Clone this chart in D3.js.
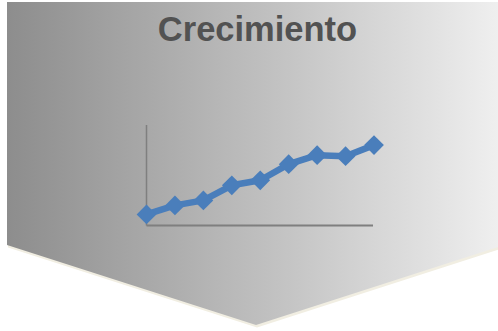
<!DOCTYPE html>
<html>
<head>
<meta charset="utf-8">
<script src="https://cdn.jsdelivr.net/npm/d3@7"></script>
<style>
  html, body { margin: 0; padding: 0; background: #ffffff; }
  svg { display: block; }
</style>
</head>
<body>
<svg id="chart" width="498" height="331"></svg>
<script>
// Data
const title = "Crecimiento";
const categories = [1, 2, 3, 4, 5, 6, 7, 8, 9];
const values = [1.1, 2.0, 2.5, 4.0, 4.5, 6.1, 7.0, 6.9, 8.0];
const yDomain = [0, 10];

const svg = d3.select("#chart");

// Background chevron shape with gradient
const defs = svg.append("defs");
const grad = defs.append("linearGradient").attr("id", "bg").attr("x1", "0%").attr("x2", "100%").attr("y1", "0%").attr("y2", "0%");
grad.append("stop").attr("offset", "0%").attr("stop-color", "#8d8d8d");
grad.append("stop").attr("offset", "50%").attr("stop-color", "#bdbdbd");
grad.append("stop").attr("offset", "100%").attr("stop-color", "#efefef");

const shape = [[7, 2], [498, 2], [498, 247], [256, 325], [7, 245]];
const line = d3.line();
svg.append("path")
  .attr("d", line(shape.map(([x, y]) => [x + 1, y + 2.5])) + "Z")
  .attr("fill", "#f1eee2");
svg.append("path")
  .attr("d", line(shape) + "Z")
  .attr("fill", "url(#bg)");

// Title
svg.append("text")
  .attr("x", 257.5)
  .attr("y", 40.5)
  .attr("text-anchor", "middle")
  .attr("font-family", "'Liberation Sans', Arial, sans-serif")
  .attr("font-weight", "bold")
  .attr("font-size", 34.5)
  .attr("fill", "#525252")
  .text(title);

// Scales
const x = d3.scalePoint().domain(categories).range([146.5, 374]);
const y = d3.scaleLinear().domain(yDomain).range([225.5, 125]);

// Axes (lines only)
svg.append("line")
  .attr("x1", 146.5).attr("x2", 146.5)
  .attr("y1", y(yDomain[1])).attr("y2", y(0))
  .attr("stroke", "#7f7f7f").attr("stroke-width", 1.5);
svg.append("line")
  .attr("x1", 146.5).attr("x2", 373)
  .attr("y1", y(0)).attr("y2", y(0))
  .attr("stroke", "#7f7f7f").attr("stroke-width", 1.8);

// Series line
const color = "#4a7ebb";
svg.append("path")
  .datum(values)
  .attr("d", d3.line().x((d, i) => x(categories[i])).y(d => y(d)))
  .attr("fill", "none")
  .attr("stroke", color)
  .attr("stroke-width", 6.5)
  .attr("stroke-linejoin", "round");

// Markers (diamonds)
svg.selectAll("path.marker")
  .data(values)
  .enter().append("path")
  .attr("class", "marker")
  .attr("d", d3.symbol().type(d3.symbolSquare).size(195)())
  .attr("transform", (d, i) => `translate(${x(categories[i])},${y(d)}) rotate(45)`)
  .attr("fill", color);
</script>
</body>
</html>
